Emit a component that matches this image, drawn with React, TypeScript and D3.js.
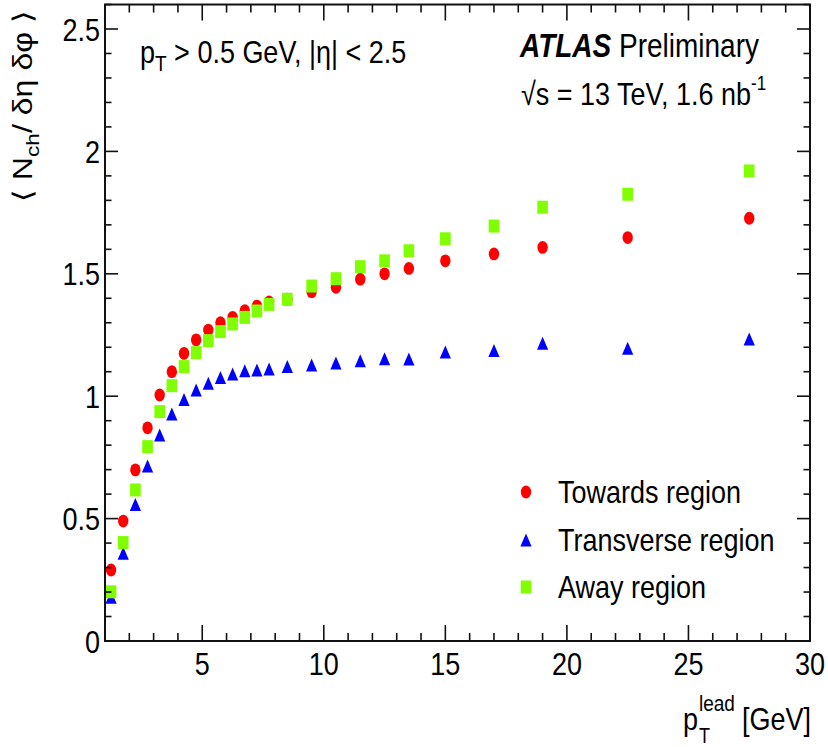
import React from "react";
import * as d3 from "d3";

// Leading-track pT bin centres [GeV]
const ptLead = [1.25, 1.75, 2.25, 2.75, 3.25, 3.75, 4.25, 4.75, 5.25, 5.75, 6.25, 6.75, 7.25, 7.75, 8.5, 9.5, 10.5, 11.5, 12.5, 13.5, 15, 17, 19, 22.5, 27.5];

// <N_ch / dEta dPhi> per region
const towards = [0.29, 0.49, 0.699, 0.871, 1.005, 1.1, 1.175, 1.23, 1.27, 1.3, 1.322, 1.349, 1.368, 1.385, 1.396, 1.427, 1.445, 1.478, 1.5, 1.522, 1.553, 1.581, 1.608, 1.648, 1.727];
const transverse = [0.179, 0.358, 0.558, 0.715, 0.842, 0.927, 0.987, 1.025, 1.053, 1.076, 1.091, 1.104, 1.107, 1.111, 1.121, 1.127, 1.136, 1.145, 1.153, 1.152, 1.181, 1.187, 1.216, 1.196, 1.234];
const away = [0.201, 0.402, 0.617, 0.794, 0.937, 1.043, 1.121, 1.178, 1.227, 1.264, 1.295, 1.322, 1.348, 1.375, 1.396, 1.45, 1.48, 1.529, 1.553, 1.594, 1.643, 1.695, 1.772, 1.825, 1.92];

const xTickLabels = [5, 10, 15, 20, 25, 30];
const yTickLabels = [0, 0.5, 1, 1.5, 2, 2.5];
const legendLabels = ["Towards region", "Transverse region", "Away region"];

const W = 828;
const H = 747;
const L = 105;
const R = 810;
const B = 641;
const unitY = 244.8;
const T = B - 2.6 * unitY;

const FONT = "'Liberation Sans', Arial, Helvetica, sans-serif";
const FS = 27;
const SY = 1.19; // vertical text stretch

const x = d3.scaleLinear().domain([1, 30]).range([L, R]);
const y = d3.scaleLinear().domain([0, 2.6]).range([B, T]);

const RED = "#ff0000";
const BLUE = "#0000ff";
const GREEN = "#7fff00";

type Kind = "circle" | "triangle" | "square";

function Marker({ kind, cx, cy, color }: { kind: Kind; cx: number; cy: number; color: string }) {
  if (kind === "circle") return <ellipse cx={cx} cy={cy} rx={5.2} ry={6.4} fill={color} />;
  if (kind === "square") return <rect x={cx - 5.3} y={cy - 6.5} width={10.6} height={13} fill={color} />;
  const p = d3.path();
  p.moveTo(cx, cy - 6.5);
  p.lineTo(cx + 5.6, cy + 6.5);
  p.lineTo(cx - 5.6, cy + 6.5);
  p.closePath();
  return <path d={p.toString()} fill={color} />;
}

function SText({ x: tx, y: ty, anchor = "start", size = FS, children, style }: any) {
  return (
    <g transform={`translate(${tx},${ty}) scale(1,${SY})`}>
      <text x={0} y={0} textAnchor={anchor} fontSize={size} fontFamily={FONT} fill="#000" style={style}>
        {children}
      </text>
    </g>
  );
}

export default function App() {
  const xMinor = d3.range(1, 31);
  const yMinor = d3.range(0, 27).map((i) => +(i * 0.1).toFixed(1));
  const isMajorX = (v: number) => v % 5 === 0;
  const isMajorY = (v: number) => Math.abs(v * 2 - Math.round(v * 2)) < 1e-6;

  const series: { data: number[]; kind: Kind; color: string }[] = [
    { data: towards, kind: "circle", color: RED },
    { data: transverse, kind: "triangle", color: BLUE },
    { data: away, kind: "square", color: GREEN },
  ];

  const legendY = [492, 540, 587];

  return (
    <svg width={W} height={H} style={{ position: "absolute", left: 0, top: 0, background: "#fff" }}>
      <rect x={0} y={0} width={W} height={H} fill="#fff" />

      {/* data points */}
      {series.map((s, si) => (
        <g key={si}>
          {s.data.map((v, i) => (
            <Marker key={i} kind={s.kind} cx={x(ptLead[i])} cy={y(v)} color={s.color} />
          ))}
        </g>
      ))}

      {/* frame */}
      <rect x={L} y={T} width={R - L} height={B - T} fill="none" stroke="#111" strokeWidth={2} />

      {/* ticks */}
      <g stroke="#111" strokeWidth={1.6}>
        {xMinor.map((v) => {
          const len = isMajorX(v) ? 16 : 8;
          return (
            <g key={"x" + v}>
              <line x1={x(v)} x2={x(v)} y1={B} y2={B - len} />
              <line x1={x(v)} x2={x(v)} y1={T} y2={T + len} />
            </g>
          );
        })}
        {yMinor.map((v) => {
          const len = isMajorY(v) ? 13 : 6.5;
          return (
            <g key={"y" + v}>
              <line x1={L} x2={L + len} y1={y(v)} y2={y(v)} />
              <line x1={R} x2={R - len} y1={y(v)} y2={y(v)} />
            </g>
          );
        })}
      </g>

      {/* tick labels */}
      {xTickLabels.map((v) => (
        <SText key={"xl" + v} x={x(v)} y={675} anchor="middle">
          {String(v)}
        </SText>
      ))}
      {yTickLabels.map((v) => (
        <SText key={"yl" + v} x={100} y={y(v) + 11.5} anchor="end">
          {String(v)}
        </SText>
      ))}

      {/* x-axis title */}
      <SText x={683} y={730}>p</SText>
      <SText x={699} y={743} size={18}>T</SText>
      <SText x={699} y={711} size={19}>lead</SText>
      <SText x={742} y={730}>[GeV]</SText>

      {/* y-axis title */}
      <g transform={`translate(32,10) rotate(-90) scale(${SY},1)`}>
        <text x={0} y={0} textAnchor="end" fontSize={FS} fontFamily={FONT} fill="#000">
          <tspan>{"⟨ N"}</tspan>
          <tspan fontSize={19} dy={7}>ch</tspan>
          <tspan dy={-7}>{"/  δη  δφ  ⟩"}</tspan>
        </text>
      </g>

      {/* selection label */}
      <SText x={140} y={63}>
        <tspan>p</tspan>
        <tspan fontSize={19} dy={7}>T</tspan>
        <tspan dy={-7}>{" > 0.5 GeV, |η| < 2.5"}</tspan>
      </SText>

      {/* experiment label */}
      <SText x={520} y={57}>
        <tspan fontWeight="bold" fontStyle="italic" fontSize={28}>ATLAS</tspan>
        <tspan fontSize={28}>{" Preliminary"}</tspan>
      </SText>
      <SText x={521} y={105}>
        <tspan>{"√s = 13 TeV, 1.6 nb"}</tspan>
        <tspan fontSize={17} dy={-13}>-1</tspan>
      </SText>

      {/* legend */}
      {series.map((s, i) => (
        <g key={"lg" + i}>
          <Marker kind={s.kind} cx={526} cy={legendY[i]} color={s.color} />
          <SText x={558} y={legendY[i] + 10.5}>
            {legendLabels[i]}
          </SText>
        </g>
      ))}
    </svg>
  );
}
